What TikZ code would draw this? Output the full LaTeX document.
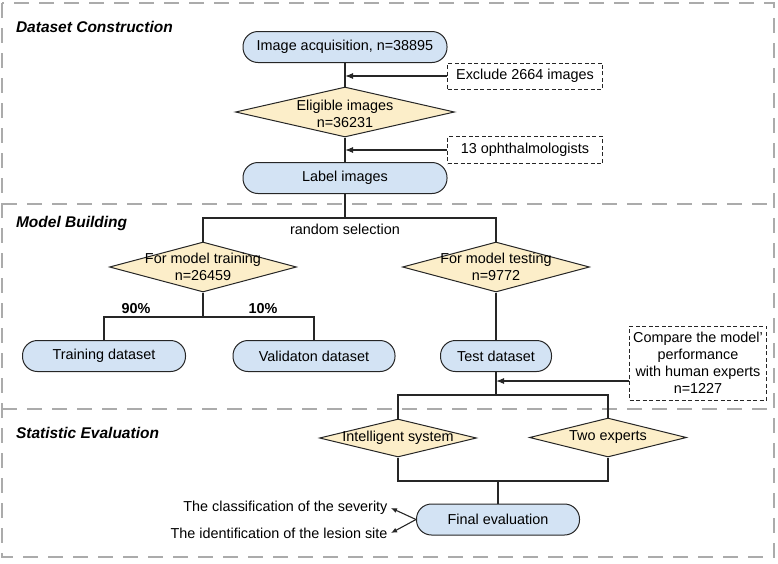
\documentclass[tikz,border=0pt]{standalone}
\usepackage{fontspec}
\setmainfont{Liberation Sans}
\usetikzlibrary{shapes.geometric, arrows.meta, positioning, calc}

\definecolor{stepblue}{HTML}{D3E3F4}
\definecolor{choiceyellow}{HTML}{FCEEC9}
\definecolor{framegray}{HTML}{ABABAB}

\begin{document}
\begin{tikzpicture}[x=1pt, y=-1pt]
    % --- Style Definitions ---
    \tikzset{
        frame style/.style={
            draw=framegray,
            line width=2pt,
            dash pattern=on 15pt off 10pt
        },
        section title/.style={
            font=\fontsize{15.5}{18}\selectfont\bfseries\itshape,
            anchor=west
        },
        box text/.style={font=\fontsize{14.4}{17}\selectfont, align=center},
        process box/.style={
            box text,
            draw=black!85,
            line width=1pt,
            fill=stepblue,
            rounded corners=15pt,
            minimum height=31pt,
            inner sep=0pt
        },
        choice style/.style={
            diamond,
            draw=black!85,
            line width=1pt,
            fill=choiceyellow,
            inner sep=0pt
        },
        note box/.style={
            box text,
            draw=black!85,
            line width=1pt,
            dash pattern=on 4pt off 2.5pt,
            inner sep=0pt
        },
        pct text/.style={font=\fontsize{14.4}{17}\selectfont\bfseries},
        link/.style={draw=black!85, line width=1.1pt},
        annotation arrow/.style={
            -{Latex[length=8pt, width=6pt]},
            draw=black!85,
            line width=1.1pt
        },
        small arrow/.style={
            -{Latex[length=6pt, width=5pt]},
            draw=black!85,
            line width=1.1pt
        }
    }

    \useasboundingbox (0,0) rectangle (778,563);

    % ==========================================
    % FRAMES AND SECTION TITLES
    % ==========================================
    \draw[frame style] (2,3) rectangle (774,557);
    \draw[frame style] (2,204) -- (774,204);
    \draw[frame style] (2,409) -- (774,409);

    \node[section title] (title_data) at (12.5,27) {Dataset Construction};
    \node[section title] (title_model) at (12.5,223) {Model Building};
    \node[section title] (title_stat) at (12.5,433) {Statistic Evaluation};

    % ==========================================
    % DATASET CONSTRUCTION
    % ==========================================
    % 1. Main steps
    \node[process box, minimum width=204pt] (acquire) at (345,47) {Image acquisition, n=38895};
    \node[choice style, minimum width=219pt, minimum height=50pt] (eligible) at (345,112) {};
    \node[box text] (txt_eligible) at (345,114) {Eligible images\\n=36231};
    \node[process box, minimum width=204pt] (label_img) at (345,178) {Label images};

    % 2. Side notes
    \node[note box, minimum width=155pt, minimum height=26pt] (exclude) at (525,76) {Exclude 2664 images};
    \node[note box, minimum width=155pt, minimum height=27pt] (doctors) at (525,150) {13 ophthalmologists};

    % 3. Connectors
    \draw[link] (acquire) -- (eligible);
    \draw[link] (eligible) -- (label_img);
    \draw[annotation arrow] (exclude.west) -- (exclude.west -| acquire.south);
    \draw[annotation arrow] (doctors.west) -- (doctors.west -| eligible.south);

    % ==========================================
    % MODEL BUILDING
    % ==========================================
    % 1. Random split
    \coordinate (select_bar) at (345,218);
    \node[choice style, minimum width=187pt, minimum height=50pt] (train_choice) at (203,267) {};
    \node[choice style, minimum width=187pt, minimum height=50pt] (test_choice) at (496,267) {};
    \node[box text] (txt_train) at (train_choice.center) {For model training\\n=26459};
    \node[box text] (txt_test) at (test_choice.center) {For model testing\\n=9772};
    \node[box text] (lbl_select) at (345,229) {random selection};

    \draw[link] (label_img.south) -- (select_bar);
    \draw[link] (train_choice.north) |- (select_bar) -| (test_choice.north);

    % 2. Training / validation split
    \coordinate (train_bar) at (203,317);
    \node[process box, minimum width=163pt] (train_set) at (104,356) {Training dataset};
    \node[process box, minimum width=162pt] (val_set) at (314,356) {Validaton dataset};
    \node[pct text] (pct_train) at (136,309) {90\%};
    \node[pct text] (pct_val) at (263,309) {10\%};

    \draw[link] (train_choice.south) -- (train_bar);
    \draw[link] (train_set.north) |- (train_bar) -| (val_set.north);

    % 3. Test set and human comparison
    \node[process box, minimum width=111pt] (test_set) at (496,356) {Test dataset};
    \draw[link] (test_choice.south) -- (test_set.north);

    \node[note box, minimum width=137pt, minimum height=74pt] (compare) at (698,363)
        {Compare the model'\\performance\\with human experts\\n=1227};
    \coordinate (compare_in) at ([yshift=-18pt]compare.west);
    \draw[annotation arrow] (compare_in) -- (compare_in -| test_set.south);

    % ==========================================
    % STATISTIC EVALUATION
    % ==========================================
    \coordinate (eval_split) at (496,395);
    \coordinate (eval_merge) at (498,481);
    \node[choice style, minimum width=157pt, minimum height=38pt] (sys_choice) at (398,438) {};
    \node[choice style, minimum width=157pt, minimum height=39pt] (expert_choice) at (608,437.5) {};
    \node[box text] (txt_sys) at (sys_choice.center) {Intelligent system};
    \node[box text] (txt_expert) at (expert_choice.center) {Two experts};

    \draw[link] (test_set.south) -- (eval_split);
    \draw[link] (sys_choice.north) |- (eval_split) -| (expert_choice.north);
    \draw[link] (sys_choice.south) |- (eval_merge) -| (expert_choice.south);

    \node[process box, minimum width=163pt] (final) at (498,519.5) {Final evaluation};
    \draw[link] (eval_merge) -- (final.north);

    % Outcomes
    \node[box text, anchor=east] (txt_severity) at (391,508) {The classification of the severity};
    \node[box text, anchor=east] (txt_site) at (391,533) {The identification of the lesion site};
    \draw[small arrow] (final.west) -- (txt_severity.east);
    \draw[small arrow] (final.west) -- (txt_site.east);

\end{tikzpicture}
\end{document}
